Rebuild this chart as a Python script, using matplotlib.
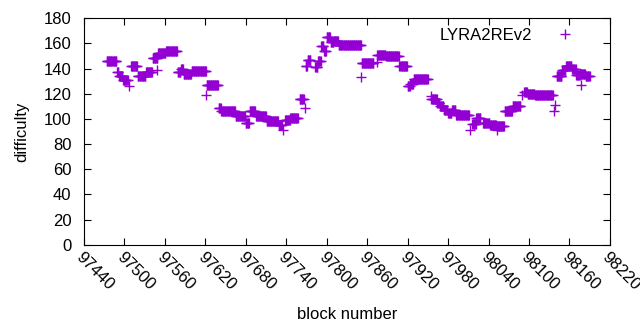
import matplotlib.pyplot as plt
import numpy as np

plt.rcParams['font.family'] = ['Liberation Sans', 'DejaVu Sans']

# runs of constant difficulty: first block, last block, difficulty
run_start = [97474, 97489, 97492, 97498, 97510, 97520, 97532, 97542, 97550, 97562,
             97579, 97584, 97588, 97600, 97622, 97640, 97644, 97652, 97665, 97680,
             97686, 97695, 97711, 97729, 97738, 97746, 97760, 97769, 97772, 97783,
             97787, 97792, 97796, 97800, 97806, 97811, 97818, 97852, 97875, 97888,
             97908, 97920, 97924, 97929, 97955, 97964, 97968, 97974, 97980, 97986,
             97992, 98016, 98022, 98032, 98042, 98052, 98064, 98076, 98093, 98098,
             98109, 98141, 98149, 98155, 98164, 98170, 98176, 98184]
run_end = [97488, 97491, 97497, 97505, 97519, 97531, 97541, 97549, 97561, 97578,
           97583, 97587, 97599, 97621, 97639, 97643, 97651, 97664, 97679, 97685,
           97694, 97710, 97728, 97734, 97745, 97757, 97766, 97771, 97776, 97786,
           97791, 97795, 97799, 97805, 97810, 97817, 97851, 97869, 97887, 97907,
           97919, 97923, 97928, 97950, 97963, 97967, 97973, 97979, 97985, 97991,
           98011, 98021, 98028, 98041, 98051, 98063, 98075, 98087, 98097, 98108,
           98135, 98148, 98154, 98163, 98169, 98175, 98183, 98190]
run_diff = [146, 137, 134, 131, 142, 134, 137, 148, 152, 154,
            137, 140, 136, 138, 127, 109, 106, 106, 102, 97,
            106, 102, 98, 95, 99, 101, 116, 142, 147, 141,
            146, 158, 154, 165, 161, 162, 159, 144, 151, 150,
            142, 126, 128, 132, 116, 113, 110, 107, 105, 107,
            103, 96, 101, 97, 95, 94, 106, 110, 121, 120,
            119, 134, 139, 142, 140, 135, 136, 134]

# single blocks off the runs
odd_block = [97507, 97548, 97621, 97735, 97768, 97851, 97875, 97955, 98013, 98052,
             98090, 98137, 98139, 98147, 98177]
odd_diff = [126, 139, 119, 91, 109, 133, 145, 118, 91, 91,
            119, 106, 111, 134, 127]

block = np.concatenate([np.arange(s, e + 1) for s, e in zip(run_start, run_end)] + [odd_block])
diff = np.concatenate([np.full(e - s + 1, d) for s, e, d in zip(run_start, run_end, run_diff)] + [odd_diff])

fig = plt.figure(figsize=(6.4, 3.3), dpi=100)
ax = fig.add_axes([0.131, 0.258, 0.822, 0.687])
ax.plot(block, diff, '+', color='#9400d3', markersize=7, markeredgewidth=1, label='LYRA2REv2')

ax.set_xlim(97440, 98220)
ax.set_ylim(0, 180)
ax.set_xticks(np.arange(97440, 98221, 60))
ax.set_yticks(np.arange(0, 181, 20))
ax.tick_params(direction='in', top=True, right=True, length=5, labelsize=12)
ax.tick_params(axis='y', pad=9)
for lab in ax.get_xticklabels():
    lab.set_rotation(-45)
    lab.set_ha('left')
    lab.set_va('top')
    lab.set_rotation_mode('anchor')
ax.set_xlabel('block number', fontsize=12, labelpad=10)
ax.set_ylabel('difficulty', fontsize=12, labelpad=10)
ax.legend(loc='upper right', bbox_to_anchor=(0.966, 1.0), frameon=False,
          markerfirst=False, fontsize=12, numpoints=1, handletextpad=1.0,
          borderaxespad=0.2)

fig.savefig('out.png', dpi=100)
